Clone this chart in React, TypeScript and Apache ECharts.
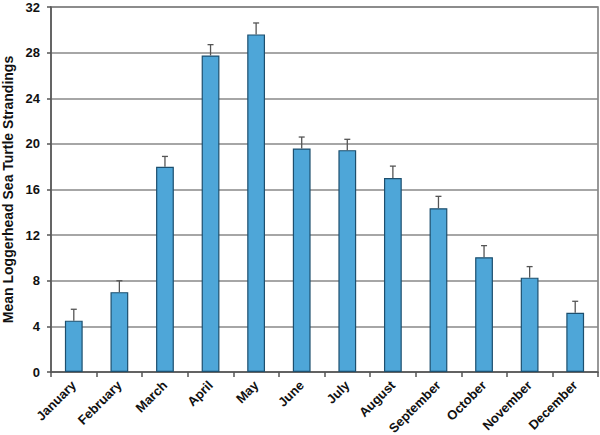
import React, { useEffect, useRef } from "react";
import * as echarts from "echarts";

const months = ["January", "February", "March", "April", "May", "June", "July", "August", "September", "October", "November", "December"];
const means = [4.5, 7.0, 18.0, 27.75, 29.6, 19.6, 19.45, 17.0, 14.36, 10.06, 8.27, 5.2];
const upperErrors = [5.5, 8.0, 18.9, 28.7, 30.6, 20.6, 20.4, 18.05, 15.4, 11.08, 9.24, 6.2];
const yTicks = { min: 0, max: 32, interval: 4 };

export default function App() {
  const ref = useRef<HTMLDivElement>(null);
  useEffect(() => {
    if (!ref.current) return;
    const chart = echarts.init(ref.current, undefined, { renderer: "svg" });
    const font = "Liberation Sans, Arial, sans-serif";
    chart.setOption({
      animation: false,
      backgroundColor: "#ffffff",
      grid: {
        left: 51, right: 2, top: 7, bottom: 63,
        containLabel: false, outerBoundsMode: "none",
        show: true, borderColor: "#777", borderWidth: 1.5, backgroundColor: "transparent",
      },
      xAxis: {
        type: "category",
        data: months,
        boundaryGap: true,
        axisLine: { show: true, lineStyle: { color: "#555", width: 1.5 } },
        axisTick: { show: true, alignWithLabel: false, length: 5, lineStyle: { color: "#555", width: 1.5 } },
        axisLabel: { rotate: 45, interval: 0, color: "#111", fontWeight: "bold", fontSize: 13, fontFamily: font, margin: 11 },
        splitLine: { show: false },
      },
      yAxis: {
        type: "value",
        min: yTicks.min,
        max: yTicks.max,
        interval: yTicks.interval,
        name: "Mean Loggerhead Sea Turtle Strandings",
        nameLocation: "middle",
        nameGap: 33,
        nameTextStyle: { color: "#111", fontWeight: "bold", fontSize: 14, fontFamily: font },
        axisLine: { show: true, lineStyle: { color: "#555", width: 1.5 } },
        axisTick: { show: true, length: 4, lineStyle: { color: "#555", width: 1.5 } },
        axisLabel: { color: "#111", fontWeight: "bold", fontSize: 13, fontFamily: font, margin: 11 },
        splitLine: { show: true, lineStyle: { color: "#888", width: 1.5 } },
      },
      series: [
        {
          type: "bar",
          data: means,
          barWidth: "39%",
          itemStyle: { color: "#4ea6d8", borderColor: "#1d4f6e", borderWidth: 1.2 },
          z: 2,
        },
        {
          type: "custom",
          data: means.map((m, i) => [i, m, upperErrors[i]]),
          z: 3,
          renderItem: (params: any, api: any) => {
            const i = api.value(0);
            const p0 = api.coord([i, api.value(1)]);
            const p1 = api.coord([i, api.value(2)]);
            const style = { stroke: "#555", lineWidth: 1.3 };
            return {
              type: "group",
              children: [
                { type: "line", shape: { x1: p0[0], y1: p0[1], x2: p1[0], y2: p1[1] }, style },
                { type: "line", shape: { x1: p1[0] - 3, y1: p1[1], x2: p1[0] + 3, y2: p1[1] }, style },
              ],
            };
          },
        },
      ],
    });
    return () => chart.dispose();
  }, []);
  return <div ref={ref} style={{ width: 600, height: 435, position: "absolute", left: 0, top: 0 }} />;
}
